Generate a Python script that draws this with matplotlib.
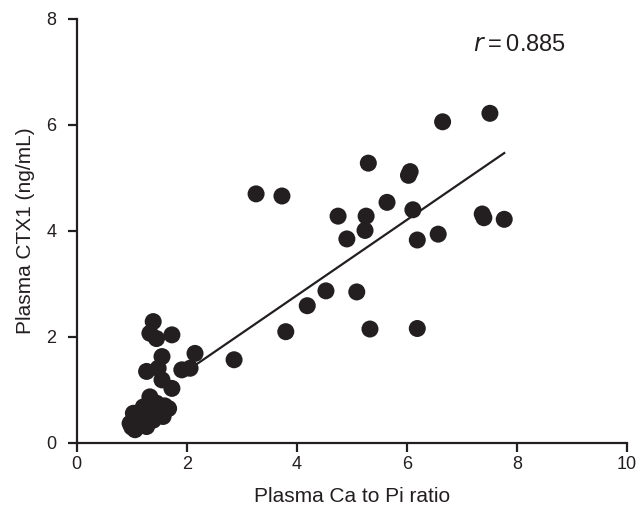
import matplotlib
matplotlib.use("Agg")
import matplotlib.pyplot as plt

plt.rcParams['font.family'] = ['Liberation Sans', 'DejaVu Sans']

ratio = [7.51, 6.65, 5.30, 6.03, 6.06, 3.26, 3.73, 5.64, 4.75, 5.26, 6.11,
         7.37, 7.40, 7.77, 5.24, 4.91, 6.19, 6.57, 4.53, 5.09, 4.19, 3.80,
         5.33, 6.19, 2.86, 2.15,
         1.39, 1.33, 1.45, 1.73, 1.55, 1.27, 1.48, 1.55, 1.73, 1.91, 2.06,
         1.33, 1.67, 1.57, 1.03, 0.97, 1.06, 1.27, 1.21, 1.45, 1.15, 1.39,
         1.10, 1.00, 1.20, 1.30, 1.50, 1.35, 1.05, 1.60]
ctx1 = [6.22, 6.06, 5.28, 5.05, 5.12, 4.70, 4.66, 4.54, 4.28, 4.28, 4.40,
        4.32, 4.25, 4.22, 4.01, 3.85, 3.83, 3.94, 2.87, 2.85, 2.59, 2.10,
        2.15, 2.16, 1.57, 1.69,
        2.29, 2.07, 1.97, 2.04, 1.63, 1.35, 1.41, 1.19, 1.03, 1.38, 1.41,
        0.87, 0.65, 0.50, 0.56, 0.37, 0.25, 0.31, 0.68, 0.75, 0.43, 0.43,
        0.40, 0.30, 0.55, 0.60, 0.60, 0.50, 0.45, 0.70]

fit_x = [2.1, 7.77]
fit_y = [1.43, 5.47]

xticks = [0, 2, 4, 6, 8, 10]
yticks = [0, 2, 4, 6, 8]

ink = '#231f20'

fig = plt.figure(figsize=(6.42, 5.13), dpi=100)
ax = fig.add_axes([0.1195, 0.1365, 0.857, 0.8265])

ax.scatter(ratio, ctx1, s=150, color=ink, edgecolors='none', zorder=3, clip_on=False)
ax.plot(fit_x, fit_y, color=ink, lw=1.6, zorder=2)

ax.set_xlim(0, 10)
ax.set_ylim(0, 8)
ax.set_xticks(xticks)
ax.set_yticks(yticks)
for s in ['top', 'right']:
    ax.spines[s].set_visible(False)
for s in ['left', 'bottom']:
    ax.spines[s].set_linewidth(1.6)
    ax.spines[s].set_color(ink)
ax.tick_params(direction='out', length=6.5, width=1.6, color=ink,
               labelsize=13, labelcolor=ink)
ax.tick_params(axis='y', pad=8)
ax.tick_params(axis='x', pad=3)

ax.set_xlabel('Plasma Ca to Pi ratio', fontsize=15, color=ink, labelpad=10)
ax.set_ylabel('Plasma CTX1 (ng/mL)', fontsize=15, color=ink, labelpad=8)

ax.text(7.2, 7.5, r'$\it{r}$' + '\u2009=\u20090.885', fontsize=17, color=ink,
        va='center', ha='left')

fig.savefig('out.png', dpi=100)
